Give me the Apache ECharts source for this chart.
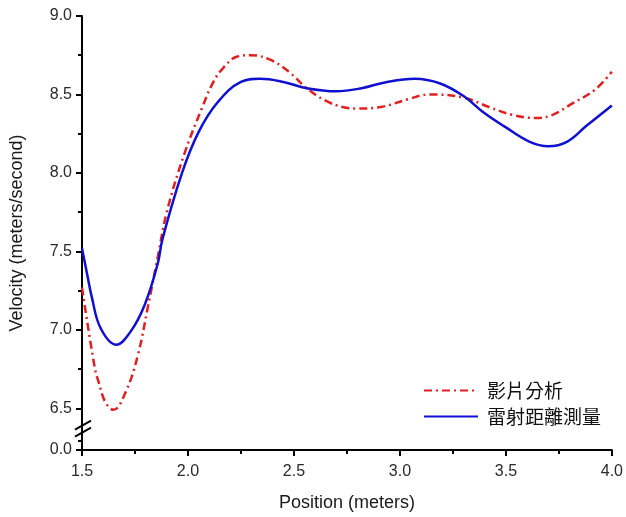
<!DOCTYPE html>
<html>
<head>
<meta charset="utf-8">
<script src="https://cdn.jsdelivr.net/npm/echarts@6/dist/echarts.min.js"></script>
<style>html,body{margin:0;padding:0;background:#fff;}#c{width:626px;height:517px;}</style>
</head>
<body>
<div id="c"></div>
<script>
// ---- data ----
var seriesNames = ['影片分析', '雷射距離測量'];
var videoX = [1.5, 1.56, 1.58, 1.61, 1.648, 1.708, 1.764, 1.81, 1.857, 1.90, 1.98, 2.065, 2.12, 2.167, 2.23, 2.296, 2.39, 2.48, 2.56, 2.65, 2.73, 2.805, 2.91, 3.04, 3.14, 3.30, 3.42, 3.53, 3.64, 3.72, 3.81, 3.92, 4.0];
var videoY = [7.27, 6.76, 6.66, 6.54, 6.49, 6.61, 6.84, 7.14, 7.46, 7.75, 8.11, 8.41, 8.58, 8.67, 8.74, 8.75, 8.72, 8.64, 8.54, 8.46, 8.42, 8.41, 8.42, 8.47, 8.50, 8.48, 8.42, 8.37, 8.35, 8.37, 8.44, 8.53, 8.645];
var laserX = [1.5, 1.525, 1.546, 1.588, 1.662, 1.73, 1.796, 1.857, 1.88, 1.972, 2.05, 2.14, 2.25, 2.34, 2.45, 2.56, 2.70, 2.82, 2.94, 3.07, 3.19, 3.30, 3.39, 3.50, 3.61, 3.70, 3.79, 3.88, 4.0];
var laserY = [7.52, 7.35, 7.21, 7.01, 6.905, 6.99, 7.16, 7.42, 7.58, 8.0, 8.26, 8.45, 8.58, 8.60, 8.58, 8.54, 8.52, 8.54, 8.58, 8.60, 8.57, 8.49, 8.39, 8.29, 8.20, 8.17, 8.20, 8.30, 8.43];
var yTickLabels = ['0.0', '6.5', '7.0', '7.5', '8.0', '8.5', '9.0'];
var yTickValues = [0.0, 6.5, 7.0, 7.5, 8.0, 8.5, 9.0];
var yMinorValues = [0.25, 6.75, 7.25, 7.75, 8.25, 8.75];

// broken axis: tick values below 6.5 are squeezed into a short band under 6.5
var BREAK_LOW = 6.5, ZERO_POS = 6.234;
function ypos(v) { return v >= BREAK_LOW - 0.05 ? v : ZERO_POS + (v / 0.25) * 0.06; }

function pairs(xs, ys) { return xs.map(function (x, i) { return [x, ys[i]]; }); }

var tickPos = yTickValues.map(ypos);
var minorPos = yMinorValues.map(ypos);
var labelMap = {};
tickPos.forEach(function (p, i) { labelMap[p.toFixed(4)] = yTickLabels[i]; });

var chart = echarts.init(document.getElementById('c'), null, {renderer: 'canvas'});
var axisColor = '#000';
var labelFont = {fontFamily: 'Liberation Sans, Arial, sans-serif', fontSize: 16, color: '#2a2a2a'};

chart.setOption({
  backgroundColor: '#fff',
  animation: false,
  grid: {left: 78, right: 9, top: 16, bottom: 64, containLabel: false},
  legend: {
    orient: 'vertical', left: 418, top: 376,
    itemWidth: 54, itemHeight: 14, itemGap: 7,
    itemStyle: {opacity: 0},
    textStyle: {fontFamily: 'Noto Sans CJK TC', fontSize: 19, color: '#111', lineHeight: 19, padding: [0, 0, 0, 4]},
    data: seriesNames
  },
  xAxis: {
    type: 'value', min: 1.5, max: 4.0, interval: 0.5,
    name: 'Position (meters)', nameLocation: 'middle', nameGap: 44,
    nameTextStyle: {fontFamily: 'Liberation Sans, Arial, sans-serif', fontSize: 18, color: '#1a1a1a'},
    axisLine: {show: true, onZero: false, lineStyle: {color: axisColor, width: 2}},
    axisTick: {show: true, inside: false, length: 6, lineStyle: {color: axisColor, width: 2}},
    minorTick: {show: true, splitNumber: 2, length: 4, lineStyle: {color: axisColor, width: 2}},
    axisLabel: Object.assign({margin: 14, formatter: function (v) { return v.toFixed(1); }}, labelFont),
    splitLine: {show: false}, minorSplitLine: {show: false}
  },
  yAxis: [{
    type: 'value', min: ZERO_POS, max: 9.0,
    name: 'Velocity (meters/second)', nameLocation: 'middle', nameGap: 56,
    nameTextStyle: {fontFamily: 'Liberation Sans, Arial, sans-serif', fontSize: 18, color: '#1a1a1a'},
    axisLine: {show: true, onZero: false, lineStyle: {color: axisColor, width: 2}},
    axisTick: {show: true, inside: false, length: 6, customValues: tickPos, lineStyle: {color: axisColor, width: 2}},
    axisLabel: Object.assign({margin: 10, customValues: tickPos, formatter: function (v) { return labelMap[v.toFixed(4)] || ''; }}, labelFont),
    splitLine: {show: false}
  }, {
    type: 'value', min: ZERO_POS, max: 9.0, position: 'left',
    axisLine: {show: false},
    axisTick: {show: true, inside: false, length: 4, customValues: minorPos, lineStyle: {color: axisColor, width: 2}},
    axisLabel: {show: false},
    splitLine: {show: false}
  }],
  series: [{
    name: seriesNames[0], type: 'line', smooth: 0.4, symbol: 'none', yAxisIndex: 0,
    lineStyle: {color: '#e02020', width: 2.5, type: [8, 4, 2, 4]},
    data: pairs(videoX, videoY)
  }, {
    name: seriesNames[1], type: 'line', smooth: 0.4, symbol: 'none', yAxisIndex: 0,
    lineStyle: {color: '#1010d0', width: 2.5, type: 'solid'},
    data: pairs(laserX, laserY)
  }],
  color: ['#e02020', '#1010d0']
});

// axis-break marks "//"
var brk = chart.convertToPixel({xAxisIndex: 0, yAxisIndex: 0}, [1.5, 6.37]);
var bx = brk[0], by = brk[1];
chart.setOption({
  graphic: [
    {type: 'line', shape: {x1: bx - 7, y1: by + 1, x2: bx + 9, y2: by - 8}, style: {stroke: '#000', lineWidth: 2}},
    {type: 'line', shape: {x1: bx - 7, y1: by + 8, x2: bx + 9, y2: by - 1}, style: {stroke: '#000', lineWidth: 2}}
  ]
});
</script>
</body>
</html>
